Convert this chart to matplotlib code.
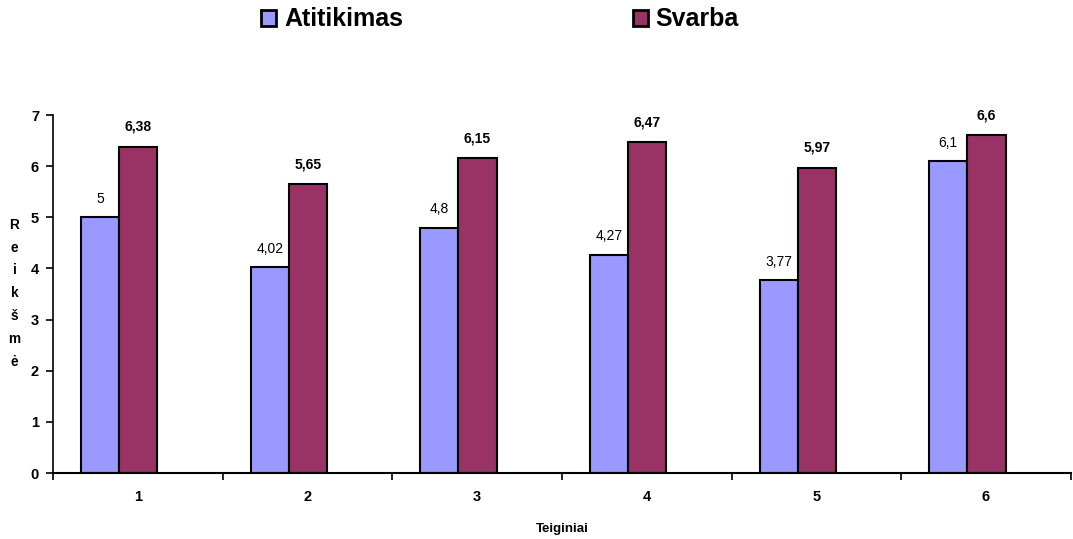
import numpy as np
import matplotlib.pyplot as plt
from matplotlib.patches import Patch

plt.rcParams['font.family'] = ['Liberation Sans', 'DejaVu Sans']

categories = ['1', '2', '3', '4', '5', '6']
atitikimas = [5, 4.02, 4.8, 4.27, 3.77, 6.1]
svarba = [6.38, 5.65, 6.15, 6.47, 5.97, 6.6]


def fmt(v):
    return ('%g' % v).replace('.', ',')


def main():
    fig = plt.figure(figsize=(10.73, 5.39), dpi=100)
    ax = fig.add_axes([0.0494, 0.1224, 0.9486, 0.6642])

    x = np.arange(len(categories))
    w = 0.225
    shift = -0.11  # bar pair sits left of the category centre
    b1 = ax.bar(x + shift - w / 2, atitikimas, w, color='#9999FF',
                edgecolor='black', lw=1.5)
    b2 = ax.bar(x + shift + w / 2, svarba, w, color='#993366',
                edgecolor='black', lw=1.5)

    for r, v in zip(b1, atitikimas):
        ax.text(r.get_x() + r.get_width() / 2, v + 0.22, fmt(v),
                ha='center', va='bottom', fontsize=10)
    for r, v in zip(b2, svarba):
        ax.text(r.get_x() + r.get_width() / 2, v + 0.25, fmt(v),
                ha='center', va='bottom', fontsize=10, fontweight='bold')

    ax.set_xlim(-0.5, len(categories) - 0.5)
    ax.set_ylim(0, 7)
    ax.set_yticks(range(8))
    ax.set_xticks(x)
    ax.set_xticklabels(categories, fontweight='bold', fontsize=10.5)
    ax.set_xticks(np.arange(-0.5, len(categories)), minor=True)
    ax.tick_params(axis='x', which='major', length=0, pad=12)
    ax.tick_params(axis='x', which='minor', length=5, width=1.2)
    ax.tick_params(axis='y', length=5, width=1.2, labelsize=10.5, pad=5)
    for lab in ax.get_yticklabels():
        lab.set_fontweight('bold')
    for s in ['top', 'right']:
        ax.spines[s].set_visible(False)
    ax.spines['left'].set_linewidth(1.2)
    ax.spines['bottom'].set_linewidth(1.5)

    ax.set_xlabel('Teiginiai', fontweight='bold', fontsize=9.5, labelpad=14)
    # vertical axis title, one letter per line
    fig.text(0.0135, 0.456, '\n'.join('Reikšmė'), ha='center', va='center',
             fontweight='bold', fontsize=9.8, linespacing=1.8)

    handles = [Patch(facecolor='#9999FF', edgecolor='black', lw=2),
               Patch(facecolor='#993366', edgecolor='black', lw=2)]
    fig.legend(handles, ['Atitikimas', 'Svarba'], loc='center',
               bbox_to_anchor=(0.466, 0.964), ncol=2, frameon=False,
               prop={'weight': 'bold', 'size': 18}, columnspacing=9.2,
               handlelength=0.6, handleheight=0.6, handletextpad=0.3,
               borderpad=0)

    fig.savefig('out.png', dpi=100)


if __name__ == "__main__":
    main()
